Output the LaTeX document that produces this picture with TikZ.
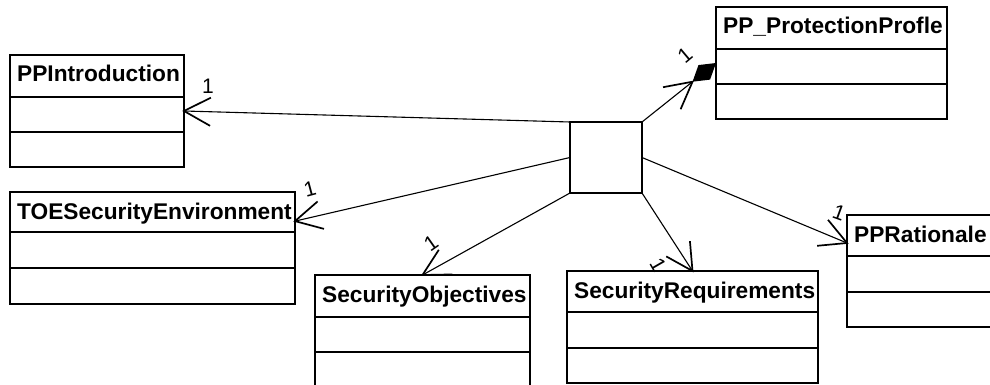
\documentclass[tikz,border=0pt]{standalone}
\usepackage{fontspec}
\setmainfont{Liberation Sans}
\usetikzlibrary{calc}

\tikzset{
  classframe/.style={draw, line width=1.8pt, rectangle, inner sep=0pt, outer sep=0pt},
  classline/.style={line width=1.8pt},
  classtitle/.style={anchor=base west, inner sep=0pt,
    font=\bfseries\fontsize{22.7}{26}\selectfont},
  conn/.style={line width=1.1pt},
  barb/.style={line width=1.7pt},
  mult/.style={inner sep=0pt, font=\fontsize{21}{24}\selectfont},
  hubbox/.style={draw, line width=1.8pt, rectangle, inner sep=0pt, outer sep=0pt,
    minimum width=72pt, minimum height=71pt},
}

% class box: name, left, top, width, header height, first compartment, total height, title
\newcommand\umlclass[8]{%
  \node[classframe, minimum width=#4pt, minimum height=#7pt, anchor=north west] (#1) at (#2,#3) {};
  \draw[classline] ($(#1.north west)+(0,#5)$) -- ($(#1.north east)+(0,#5)$);
  \draw[classline] ($(#1.north west)+(0,#5+#6)$) -- ($(#1.north east)+(0,#5+#6)$);
  \node[classtitle] (#1-title) at ($(#1.north west)+(7,27)$) {#8};
}

% open arrow head at #1, opening towards #2
\newcommand\openhead[2]{%
  \draw[barb] ($(#1)!30pt!28:(#2)$) -- (#1) -- ($(#1)!30pt!-28:(#2)$);
}

\begin{document}
\begin{tikzpicture}[x=1pt, y=-1pt]
  \useasboundingbox (0,0) rectangle (990,385);
  \fill[white] (0,0) rectangle (990,385);
  \clip (0,0) rectangle (990,385);

  % classes
  \umlclass{intro}{10}{55}{174}{42}{35}{112}{PPIntroduction}
  \umlclass{pp}{716}{7}{231}{42}{35}{112}{PP\_ProtectionProfle}
  \umlclass{toe}{10}{192}{285}{40}{36}{112}{TOESecurityEnvironment}
  \umlclass{obj}{315}{275}{215}{42}{35}{112}{SecurityObjectives}
  \umlclass{req}{567}{271}{251}{41}{36}{112}{SecurityRequirements}
  \umlclass{rat}{847}{215}{160}{41}{36}{112}{PPRationale}

  % central association box
  \node[hubbox, anchor=north west] (hub) at (570,122) {};

  % connector end points on the class borders
  \coordinate (toeTip) at ($(toe.north east)!0.26!(toe.south east)$);
  \coordinate (ratTip) at ($(rat.north west)!0.25!(rat.south west)$);

  % plain navigable associations
  \draw[conn] (hub.north west) -- (intro.east);
  \openhead{intro.east}{hub.north west}
  \draw[conn] (hub.west) -- (toeTip);
  \openhead{toeTip}{hub.west}
  \draw[conn] (hub.south west) -- (obj.north);
  \openhead{obj.north}{hub.south west}
  \draw[conn] (hub.south east) -- (req.north);
  \openhead{req.north}{hub.south east}
  \draw[conn] (hub.east) -- (ratTip);
  \openhead{ratTip}{hub.east}

  % composition towards the protection profile
  \coordinate (ppBack) at ($(pp.west)!30pt!(hub.north east)$);
  \coordinate (ppMid) at ($(pp.west)!15pt!(hub.north east)$);
  \fill ($(pp.west)$) -- ($(ppMid)!9.3pt!90:(pp.west)$) -- (ppBack)
        -- ($(ppMid)!9.3pt!-90:(pp.west)$) -- cycle;
  \draw[conn] (hub.north east) -- (ppBack);
  \openhead{ppBack}{hub.north east}

  % multiplicities
  \node[mult] (m-intro) at (208,86) {1};
  \node[mult, rotate=40] (m-pp) at (685,55) {1};
  \node[mult, rotate=15] (m-toe) at (310,189) {1};
  \node[mult, rotate=35] (m-obj) at (431,243) {1};
  \node[mult, rotate=-60] (m-req) at (658,265) {1};
  \node[mult, rotate=-20] (m-rat) at (839,213) {1};
\end{tikzpicture}
\end{document}
